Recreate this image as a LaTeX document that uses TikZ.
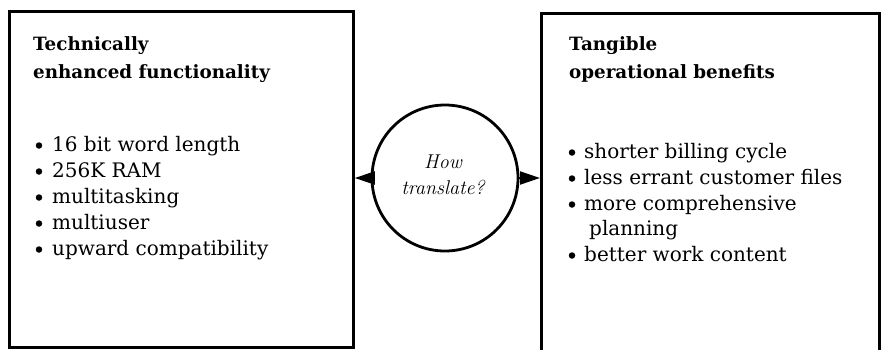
\documentclass[tikz,border=0pt]{standalone}
\usepackage{fontspec}
\newfontfamily\boxfont{DejaVu Serif}
\usetikzlibrary{arrows.meta}
\begin{document}
\begin{tikzpicture}[x=1pt,y=-1pt,
  frame/.style={draw=black,line width=2.8pt},
  headtext/.style={anchor=base west,inner sep=0pt,font=\boxfont\fontsize{18.3}{20}\selectfont\bfseries},
  itemtext/.style={anchor=base west,inner sep=0pt,font=\boxfont\fontsize{20}{22}\selectfont},
  circtext/.style={anchor=base,inner sep=0pt,font=\fontsize{20}{22}\selectfont\itshape},
  bul/.style={circle,fill=black,inner sep=0pt,minimum size=6.5pt},
  link/.style={line width=2pt,-{Triangle[length=20pt,width=13pt]}}]
\useasboundingbox (0,0) rectangle (881,349);
\clip (0,0) rectangle (881,349);
% boxes
\node[frame,minimum width=344pt,minimum height=336pt,inner sep=0pt,anchor=north west] (L) at (8,10) {};
\node[frame,minimum width=338pt,minimum height=345pt,inner sep=0pt,anchor=north west] (R) at (540,12) {};
% circle
\node[frame,circle,minimum size=146pt,inner sep=0pt] (C) at (445,178) {};
\node[circtext] (c1) at (443,168) {How};
\node[circtext] (c2) at (443,194) {translate?};
% arrows
\coordinate (La) at (L.east |- C.west);
\coordinate (Ra) at (R.west |- C.east);
\draw[link] (C.west) -- (La);
\draw[link] (C.east) -- (Ra);
% left text
\node[headtext] (lh1) at (33,50) {Technically};
\node[headtext] (lh2) at (33,78) {enhanced functionality};
\foreach \y/\t [count=\i] in {151/16 bit word length,177/256K RAM,203/multitasking,229/multiuser,255/upward compatibility}{
  \node[bul] (lb\i) at (39,\y-5.5) {};
  \node[itemtext] (lt\i) at (52,\y) {\t};
}
% right text
\node[headtext] (rh1) at (569,50) {Tangible};
\node[headtext] (rh2) at (569,78) {operational benefits};
\foreach \y/\t [count=\i] in {158/shorter billing cycle,184/less errant customer files,210/more comprehensive,261/better work content}{
  \node[bul] (rb\i) at (572,\y-5.5) {};
  \node[itemtext] (rt\i) at (584,\y) {\t};
}
\node[itemtext] (rt5) at (589,235) {planning};
\end{tikzpicture}
\end{document}
